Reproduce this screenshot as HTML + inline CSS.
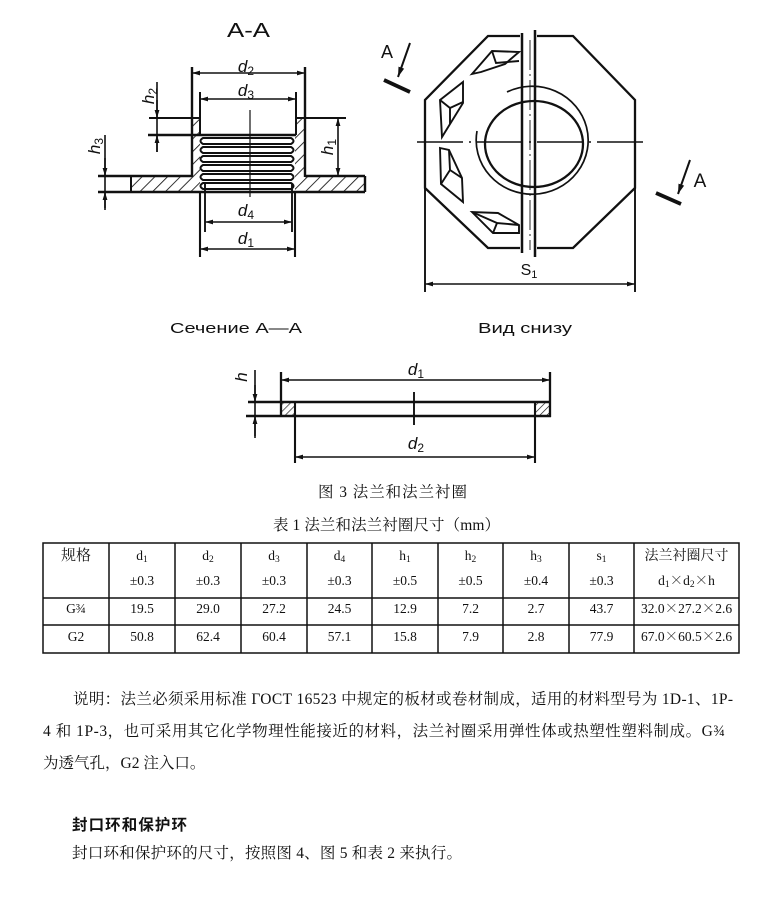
<!DOCTYPE html>
<html><head><meta charset="utf-8"><style>
html,body{margin:0;padding:0;background:#fff;}
body{width:772px;height:900px;overflow:hidden;}
svg{display:block;}
</style></head><body>
<svg width="772" height="900" viewBox="0 0 772 900" xmlns="http://www.w3.org/2000/svg">
<defs>
<marker id="ar" viewBox="0 0 10 6" refX="10" refY="3" markerWidth="8" markerHeight="5" markerUnits="userSpaceOnUse" orient="auto-start-reverse"><path d="M0,0 L10,3 L0,6 z" fill="#111"/></marker>
<marker id="ab" viewBox="0 0 10 6" refX="10" refY="3" markerWidth="10" markerHeight="7" markerUnits="userSpaceOnUse" orient="auto"><path d="M0,0 L10,3 L0,6 z" fill="#111"/></marker>
<pattern id="hh" patternUnits="userSpaceOnUse" width="9" height="9" patternTransform="rotate(45)"><line x1="0" y1="0" x2="0" y2="9" stroke="#111" stroke-width="1.7"/></pattern>
<pattern id="hs" patternUnits="userSpaceOnUse" width="5" height="5" patternTransform="rotate(45)"><line x1="0" y1="0" x2="0" y2="5" stroke="#111" stroke-width="1.3"/></pattern>
</defs>

<g fill="none" stroke="#111" stroke-linecap="butt">
<!-- ===== Section A-A ===== -->
<path d="M131,176 L192,176 L192,118 L200,118 L200,192 L131,192 Z" fill="url(#hh)" stroke="none"/>
<path d="M295,118 L305,118 L305,176 L365,176 L365,192 L295,192 Z" fill="url(#hh)" stroke="none"/>
<line x1="192" y1="67" x2="192" y2="177" stroke-width="2.4"/>
<line x1="305" y1="67" x2="305" y2="177" stroke-width="2.4"/>
<line x1="200" y1="92" x2="200" y2="135" stroke-width="2"/>
<line x1="296" y1="92" x2="296" y2="135" stroke-width="2"/>
<line x1="98" y1="176" x2="192" y2="176" stroke-width="2.4"/>
<line x1="305" y1="176" x2="365" y2="176" stroke-width="2.4"/>
<line x1="98" y1="192" x2="365" y2="192" stroke-width="2.4"/>
<line x1="131" y1="176" x2="131" y2="192" stroke-width="2"/>
<line x1="365" y1="176" x2="365" y2="192" stroke-width="2.4"/>
<line x1="149" y1="118" x2="200" y2="118" stroke-width="2.1"/>
<line x1="297" y1="118" x2="346" y2="118" stroke-width="2.1"/>
<line x1="148" y1="135" x2="296" y2="135" stroke-width="2.4"/>
<g stroke-width="2">
<path d="M203,138 L291,138 Q296,141 291,144 L203,144 Q198,141 203,138 Z"/>
<path d="M203,147 L291,147 Q296,150 291,153 L203,153 Q198,150 203,147 Z"/>
<path d="M203,156 L291,156 Q296,159 291,162 L203,162 Q198,159 203,156 Z"/>
<path d="M203,165 L291,165 Q296,168 291,171 L203,171 Q198,168 203,165 Z"/>
<path d="M203,174 L291,174 Q296,177 291,180 L203,180 Q198,177 203,174 Z"/>
<path d="M203,183 L291,183 Q296,186 291,189 L203,189 Q198,186 203,183 Z"/>
</g>
<line x1="250" y1="110" x2="250" y2="197" stroke-width="1.2"/>
<line x1="192" y1="73" x2="305" y2="73" stroke-width="1.6" marker-start="url(#ar)" marker-end="url(#ar)"/>
<line x1="200" y1="99" x2="296" y2="99" stroke-width="1.6" marker-start="url(#ar)" marker-end="url(#ar)"/>
<line x1="205" y1="183" x2="205" y2="232" stroke-width="1.9"/>
<line x1="292" y1="183" x2="292" y2="232" stroke-width="1.9"/>
<line x1="200" y1="192" x2="200" y2="257" stroke-width="2.1"/>
<line x1="295" y1="192" x2="295" y2="257" stroke-width="2.1"/>
<line x1="205" y1="222" x2="292" y2="222" stroke-width="1.6" marker-start="url(#ar)" marker-end="url(#ar)"/>
<line x1="200" y1="249" x2="295" y2="249" stroke-width="1.6" marker-start="url(#ar)" marker-end="url(#ar)"/>
<line x1="157" y1="82" x2="157" y2="152" stroke-width="1.6"/>
<line x1="157" y1="100" x2="157" y2="118" stroke-width="1.6" marker-end="url(#ar)"/>
<line x1="157" y1="152" x2="157" y2="135" stroke-width="1.6" marker-end="url(#ar)"/>
<line x1="105" y1="135" x2="105" y2="210" stroke-width="1.6"/>
<line x1="105" y1="158" x2="105" y2="176" stroke-width="1.6" marker-end="url(#ar)"/>
<line x1="105" y1="208" x2="105" y2="192" stroke-width="1.6" marker-end="url(#ar)"/>
<line x1="338" y1="118" x2="338" y2="176" stroke-width="1.6" marker-start="url(#ar)" marker-end="url(#ar)"/>

<!-- ===== Bottom view ===== -->
<path d="M520,36 L488,36 L425,100 L425,188 L488,248 L520,248" stroke-width="2.3"/>
<path d="M537,36 L573,36 L635,100 L635,188 L573,248 L537,248" stroke-width="2.3"/>
<line x1="522" y1="33" x2="522" y2="253" stroke-width="2.5"/>
<line x1="535" y1="30" x2="535" y2="257" stroke-width="2.5"/>
<line x1="530" y1="40" x2="530" y2="250" stroke-width="0.9" stroke-dasharray="30,4,2,4"/>
<ellipse cx="534" cy="144" rx="49" ry="43" stroke-width="2.3"/>
<path d="M507,92 A56,54 0 1 1 477,131" stroke-width="1.7"/>
<line x1="417" y1="142" x2="645" y2="142" stroke-width="1.6" stroke-dasharray="46,6,2,6"/>
<g stroke-width="1.9">
<path d="M472,74 L492,51 L519,52 L505,64 L481,72 Z"/>
<path d="M492,51 L496,63 L519,61"/>
<path d="M440,100 L463,82 L463,103 L442,137 Z"/>
<path d="M440,100 L450,108 L463,102 M450,108 L450,124"/>
<path d="M440,148 L449,150 L462,178 L463,202 L441,184 Z"/>
<path d="M449,150 L450,170 L462,178 M450,170 L441,184"/>
<path d="M472,212 L493,233 L519,233 L519,225 L498,213 Z"/>
<path d="M493,233 L497,223 L519,225 M497,223 L472,212"/>
</g>
<line x1="425" y1="188" x2="425" y2="292" stroke-width="1.9"/>
<line x1="635" y1="188" x2="635" y2="292" stroke-width="1.9"/>
<line x1="425" y1="284" x2="635" y2="284" stroke-width="1.6" marker-start="url(#ar)" marker-end="url(#ar)"/>
<line x1="410" y1="43" x2="398" y2="77" stroke-width="2" marker-end="url(#ab)"/>
<line x1="384" y1="80" x2="410" y2="92" stroke-width="3.8"/>
<line x1="690" y1="160" x2="678" y2="194" stroke-width="2" marker-end="url(#ab)"/>
<line x1="656" y1="193" x2="681" y2="204" stroke-width="3.8"/>

<!-- ===== Ring ===== -->
<rect x="281" y="402" width="14" height="14" fill="url(#hs)" stroke="none"/>
<rect x="536" y="402" width="15" height="14" fill="url(#hs)" stroke="none"/>
<line x1="248" y1="402" x2="551" y2="402" stroke-width="2.4"/>
<line x1="246" y1="416" x2="551" y2="416" stroke-width="2.4"/>
<line x1="281" y1="372" x2="281" y2="417" stroke-width="2.3"/>
<line x1="550" y1="372" x2="550" y2="417" stroke-width="2.3"/>
<line x1="295" y1="402" x2="295" y2="463" stroke-width="2.1"/>
<line x1="535" y1="402" x2="535" y2="463" stroke-width="2.1"/>
<line x1="414" y1="392" x2="414" y2="425" stroke-width="1.9"/>
<line x1="281" y1="380" x2="550" y2="380" stroke-width="1.6" marker-start="url(#ar)" marker-end="url(#ar)"/>
<line x1="295" y1="457" x2="535" y2="457" stroke-width="1.6" marker-start="url(#ar)" marker-end="url(#ar)"/>
<line x1="255" y1="370" x2="255" y2="438" stroke-width="1.6"/>
<line x1="255" y1="385" x2="255" y2="402" stroke-width="1.6" marker-end="url(#ar)"/>
<line x1="255" y1="436" x2="255" y2="416" stroke-width="1.6" marker-end="url(#ar)"/>

<!-- ===== Table ===== -->
<g stroke-width="1.5">
<rect x="43" y="543" width="696" height="110"/>
<line x1="43" y1="598" x2="739" y2="598"/>
<line x1="43" y1="625" x2="739" y2="625"/>
<line x1="109" y1="543" x2="109" y2="653"/>
<line x1="175" y1="543" x2="175" y2="653"/>
<line x1="241" y1="543" x2="241" y2="653"/>
<line x1="307" y1="543" x2="307" y2="653"/>
<line x1="372" y1="543" x2="372" y2="653"/>
<line x1="438" y1="543" x2="438" y2="653"/>
<line x1="503" y1="543" x2="503" y2="653"/>
<line x1="569" y1="543" x2="569" y2="653"/>
<line x1="634" y1="543" x2="634" y2="653"/>
</g>
</g>

<!-- ===== Drawing labels ===== -->
<g font-family="'Liberation Sans', 'DejaVu Sans', sans-serif" fill="#111">
<text x="227" y="37" font-size="20" textLength="43" lengthAdjust="spacingAndGlyphs">A-A</text>
<g font-size="17" font-style="italic" text-anchor="middle">
<text x="246" y="72">d<tspan font-size="12" dy="3" font-style="normal">2</tspan></text>
<text x="246" y="96">d<tspan font-size="12" dy="3" font-style="normal">3</tspan></text>
<text x="246" y="216">d<tspan font-size="12" dy="3" font-style="normal">4</tspan></text>
<text x="246" y="244">d<tspan font-size="12" dy="3" font-style="normal">1</tspan></text>
<text transform="translate(154,96) rotate(-90)">h<tspan font-size="12" dy="3" font-style="normal">2</tspan></text>
<text transform="translate(100,146) rotate(-90)">h<tspan font-size="12" dy="3" font-style="normal">3</tspan></text>
<text transform="translate(333,147) rotate(-90)">h<tspan font-size="12" dy="3" font-style="normal">1</tspan></text>
<text x="416" y="375">d<tspan font-size="12" dy="3" font-style="normal">1</tspan></text>
<text x="416" y="449">d<tspan font-size="12" dy="3" font-style="normal">2</tspan></text>
<text transform="translate(247,377) rotate(-90)">h</text>
</g>
<text x="529" y="275" font-size="16" text-anchor="middle">S<tspan font-size="11" dy="3">1</tspan></text>
<text x="387" y="58" font-size="18" text-anchor="middle">A</text>
<text x="700" y="187" font-size="19" text-anchor="middle">A</text>
<text x="170" y="333" font-size="15" textLength="132" lengthAdjust="spacingAndGlyphs">Сечение A—A</text>
<text x="478" y="333" font-size="15" textLength="94" lengthAdjust="spacingAndGlyphs">Вид снизу</text>
</g>

<!-- ===== Captions ===== -->
<g font-family="'Liberation Serif', 'Noto Serif CJK SC', serif" fill="#111" font-size="15.5">
<text x="318" y="497" textLength="149" lengthAdjust="spacing">图 3 法兰和法兰衬圈</text>
<text x="273" y="530" textLength="227" lengthAdjust="spacing">表 1 法兰和法兰衬圈尺寸（mm）</text>
</g>

<!-- ===== Table text ===== -->
<g font-family="'Liberation Serif', 'Noto Serif CJK SC', serif" fill="#111" font-size="13.5" text-anchor="middle">
<text x="76" y="560" font-size="15">规格</text>
<text x="142" y="560">d<tspan font-size="9.5" dy="2">1</tspan></text>
<text x="208" y="560">d<tspan font-size="9.5" dy="2">2</tspan></text>
<text x="274" y="560">d<tspan font-size="9.5" dy="2">3</tspan></text>
<text x="339.5" y="560">d<tspan font-size="9.5" dy="2">4</tspan></text>
<text x="405" y="560">h<tspan font-size="9.5" dy="2">1</tspan></text>
<text x="470.5" y="560">h<tspan font-size="9.5" dy="2">2</tspan></text>
<text x="536" y="560">h<tspan font-size="9.5" dy="2">3</tspan></text>
<text x="601.5" y="560">s<tspan font-size="9.5" dy="2">1</tspan></text>
<text x="686.5" y="560" font-size="14">法兰衬圈尺寸</text>
<text x="142" y="585">±0.3</text>
<text x="208" y="585">±0.3</text>
<text x="274" y="585">±0.3</text>
<text x="339.5" y="585">±0.3</text>
<text x="405" y="585">±0.5</text>
<text x="470.5" y="585">±0.5</text>
<text x="536" y="585">±0.4</text>
<text x="601.5" y="585">±0.3</text>
<text x="686.5" y="585">d<tspan font-size="9.5" dy="2">1</tspan><tspan dy="-2" font-family="'Noto Serif CJK SC', serif">×</tspan>d<tspan font-size="9.5" dy="2">2</tspan><tspan dy="-2" font-family="'Noto Serif CJK SC', serif">×</tspan>h</text>

<text x="76" y="613">G¾</text>
<text x="142" y="613">19.5</text>
<text x="208" y="613">29.0</text>
<text x="274" y="613">27.2</text>
<text x="339.5" y="613">24.5</text>
<text x="405" y="613">12.9</text>
<text x="470.5" y="613">7.2</text>
<text x="536" y="613">2.7</text>
<text x="601.5" y="613">43.7</text>
<text x="686.5" y="613">32.0<tspan font-family="'Noto Serif CJK SC', serif">×</tspan>27.2<tspan font-family="'Noto Serif CJK SC', serif">×</tspan>2.6</text>

<text x="76" y="641">G2</text>
<text x="142" y="641">50.8</text>
<text x="208" y="641">62.4</text>
<text x="274" y="641">60.4</text>
<text x="339.5" y="641">57.1</text>
<text x="405" y="641">15.8</text>
<text x="470.5" y="641">7.9</text>
<text x="536" y="641">2.8</text>
<text x="601.5" y="641">77.9</text>
<text x="686.5" y="641">67.0<tspan font-family="'Noto Serif CJK SC', serif">×</tspan>60.5<tspan font-family="'Noto Serif CJK SC', serif">×</tspan>2.6</text>
</g>

<!-- ===== Paragraph ===== -->
<g font-family="'Liberation Serif', 'Noto Serif CJK SC', serif" fill="#111" font-size="15.5">
<text x="73" y="704" textLength="660" lengthAdjust="spacing">说明：法兰必须采用标准 ГОСТ 16523 中规定的板材或卷材制成，适用的材料型号为 1D-1、1P-</text>
<text x="43" y="736" textLength="682" lengthAdjust="spacing">4 和 1P-3，也可采用其它化学物理性能接近的材料，法兰衬圈采用弹性体或热塑性塑料制成。G¾</text>
<text x="43" y="768">为透气孔，G2 注入口。</text>
<text x="72" y="830" font-family="'Liberation Sans', 'Noto Sans CJK SC', sans-serif" font-weight="bold" textLength="115" lengthAdjust="spacing">封口环和保护环</text>
<text x="72" y="858" textLength="390" lengthAdjust="spacing">封口环和保护环的尺寸，按照图 4、图 5 和表 2 来执行。</text>
</g>
</svg>
</body></html>
